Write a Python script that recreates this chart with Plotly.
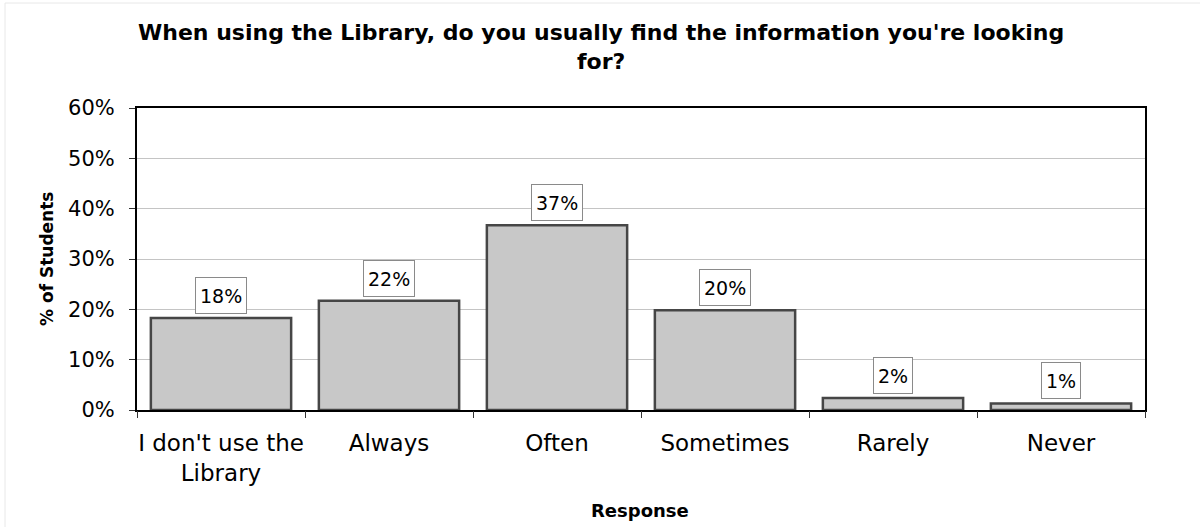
import plotly.graph_objects as go

categories = ["I don't use the<br>Library", "Always", "Often", "Sometimes", "Rarely", "Never"]
values = [18.3, 21.7, 36.7, 19.8, 2.4, 1.3]
labels = ["18%", "22%", "37%", "20%", "2%", "1%"]
y_ticks = [0, 10, 20, 30, 40, 50, 60]
y_ticktext = ["0%", "10%", "20%", "30%", "40%", "50%", "60%"]

FONT = "DejaVu Sans, Arial, sans-serif"
x_idx = list(range(len(categories)))

# plot area in pixels (for paper-coordinate conversion)
L, R, T, B = 137, 1145, 108, 410
def px(x):
    return (x - L) / (R - L)
def py(y):
    return (B - y) / (B - T)

fig = go.Figure()
fig.add_trace(go.Bar(
    x=x_idx, y=values, width=0.835,
    marker=dict(color="#c8c8c8", line=dict(color="#464646", width=2.5)),
    hoverinfo="skip", showlegend=False,
))
# invisible trace to carry category-boundary ticks on xaxis2
fig.add_trace(go.Scatter(x=[-0.5, 5.5], y=[0, 0], xaxis="x2", mode="none",
                         showlegend=False, hoverinfo="skip"))

for i, (v, t) in enumerate(zip(values, labels)):
    fig.add_annotation(
        x=i, y=v, text=t, showarrow=False, xanchor="center", yanchor="bottom",
        yshift=4, bgcolor="white", bordercolor="#8a8a8a", borderwidth=1, borderpad=4,
        height=27, valign="middle",
        font=dict(family=FONT, size=19, color="black"),
    )

# title
fig.add_annotation(
    x=px(601), y=py(18), xref="paper", yref="paper", xanchor="center", yanchor="top",
    text="<b>When using the Library, do you usually find the information you're looking<br>for?</b>",
    showarrow=False, font=dict(family=FONT, size=22, color="black"),
)
fig.add_annotation(x=px(640), y=py(510), xref="paper", yref="paper", text="<b>Response</b>",
                   showarrow=False, xanchor="center", yanchor="middle",
                   font=dict(family=FONT, size=18, color="black"))
fig.add_annotation(x=px(47), y=0.5, xref="paper", yref="paper", text="<b>% of Students</b>",
                   showarrow=False, xanchor="center", yanchor="middle", textangle=-90,
                   font=dict(family=FONT, size=17, color="black"))

# faint outer frame lines (top and left)
fig.add_shape(type="line", xref="paper", yref="paper", x0=px(5), x1=px(1200), y0=py(3), y1=py(3),
              line=dict(color="#e8e8e8", width=1))
fig.add_shape(type="line", xref="paper", yref="paper", x0=px(5), x1=px(5), y0=py(527), y1=py(3),
              line=dict(color="#e8e8e8", width=1))

fig.update_layout(
    width=1200, height=527,
    margin=dict(l=L, r=1200 - R, t=T, b=527 - B),
    paper_bgcolor="white", plot_bgcolor="white",
    xaxis=dict(
        range=[-0.5, 5.5], tickvals=x_idx, ticktext=categories, ticks="",
        showgrid=False, showline=True, linecolor="black", linewidth=2, mirror=True,
        tickfont=dict(family=FONT, size=23, color="black"), ticklabelstandoff=11,
        zeroline=False, fixedrange=True,
    ),
    xaxis2=dict(
        range=[-0.5, 5.5], overlaying="x", side="bottom", tickvals=[-0.5, 0.5, 1.5, 2.5, 3.5, 4.5, 5.5],
        ticks="outside", ticklen=7, tickcolor="#333333", tickwidth=1, showticklabels=False,
        showgrid=False, showline=False, zeroline=False,
    ),
    yaxis=dict(
        range=[0, 60], tickvals=y_ticks, ticktext=y_ticktext, ticks="outside", ticklen=6,
        tickcolor="#333333", showgrid=True, gridcolor="#c4c4c4", gridwidth=1,
        showline=True, linecolor="black", linewidth=2, mirror=True, zeroline=False,
        tickfont=dict(family=FONT, size=21, color="black"), ticklabelstandoff=10,
    ),
    bargap=0.165,
)

fig.write_html("out.html")
